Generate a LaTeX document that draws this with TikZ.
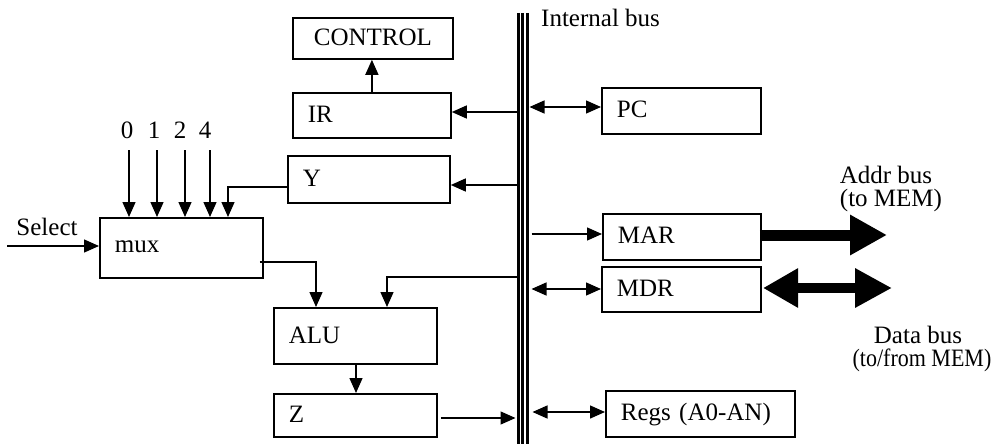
\documentclass[tikz,border=0pt]{standalone}
\usepackage{fontspec}
\setmainfont{Liberation Serif}
\usetikzlibrary{arrows.meta}
\begin{document}
\begin{tikzpicture}[x=1pt,y=-1pt,
  every node/.style={font=\fontsize{25}{28}\selectfont},
  box/.style={draw, line width=1.8pt, anchor=north west, inner xsep=15pt,
    inner ysep=0pt, text height=16pt, text depth=2pt, align=left},
  wire/.style={line width=1.4pt},
  arr/.style={wire, -{Triangle[length=15pt,width=13pt]}},
  darr/.style={wire, {Triangle[length=15pt,width=13pt]}-{Triangle[length=15pt,width=13pt]}},
  fat/.style={line width=11pt, -{Triangle[length=37pt,width=38pt]}},
  fatboth/.style={line width=10.5pt, {Triangle[length=35pt,width=37pt]}-{Triangle[length=37pt,width=37pt]}},
  note/.style={anchor=base, inner sep=0pt},
]
\fill[white] (0,0) rectangle (998,444);
\useasboundingbox (0,0) rectangle (998,444);

% internal bus: three parallel rails
\node[minimum width=13pt, minimum height=431pt, inner sep=0pt, outer sep=0pt] (bus) at (523,228.5) {};
\foreach \dx in {2,6,10.8}
  \draw[line width=2.4pt] ([xshift=\dx pt]bus.north west) -- ([xshift=\dx pt]bus.south west);
\node[anchor=base west, inner sep=0pt] (buslabel) at (541,26.5) {Internal bus};

% registers and units
\node[box, align=center, minimum width=160pt, minimum height=41pt, text width=130pt] (CONTROL) at (292,17) {CONTROL};
\node[box, minimum width=158pt, minimum height=45pt, text width=128pt] (IR) at (292,92) {IR};
\node[box, minimum width=159pt, minimum height=46pt, text width=129pt] (PC) at (601,87) {PC};
\node[box, minimum width=162pt, minimum height=47pt, text width=132pt] (Y) at (287,155) {Y};
\node[box, minimum width=163pt, minimum height=60pt, text width=133pt, text depth=6pt] (mux) at (99,217) {mux};
\node[box, minimum width=163pt, minimum height=56pt, text width=133pt, text depth=0pt] (ALU) at (273,307) {ALU};
\node[box, minimum width=163pt, minimum height=43pt, text width=133pt] (Z) at (273,393) {Z};
\node[box, minimum width=158pt, minimum height=46pt, text width=128pt] (MAR) at (602,213) {MAR};
\node[box, minimum width=159pt, minimum height=45pt, text width=129pt] (MDR) at (601,266) {MDR};
\node[box, minimum width=189pt, minimum height=46pt, text width=159pt] (Regs) at (605,390) {Regs (A0-AN)};

% constant inputs of the multiplexer
\node[note] (in0) at (127,138) {0};
\node[note] (in1) at (154,138) {1};
\node[note] (in2) at (180,138) {2};
\node[note] (in4) at (205,138) {4};
\foreach \n/\x in {in0/129,in1/157,in2/185,in4/210}
  \draw[arr] (\x,150) -- (mux.north -| \x,0);

% select line
\node[note] (sellabel) at (47,235) {Select};
\coordinate (sel) at (7,246);
\draw[arr] (sel) -- (mux.west |- sel);

% datapath connections
\draw[arr] (IR.north) -- (IR.north |- CONTROL.south);
\draw[arr] (bus.west |- 0,112) -- (IR.east |- 0,112);
\draw[darr] (bus.east |- 0,107) -- (PC.west |- 0,107);
\draw[arr] (bus.west |- 0,185) -- (Y.east |- 0,185);
\draw[arr] (Y.west |- 0,187) -| (mux.north -| 228,0);
\draw[arr] ([xshift=-4pt]mux.east |- 0,262) -| (ALU.north -| 316,0);
\draw[arr] (bus.west |- 0,277) -| (ALU.north -| 387,0);
\draw[arr] (ALU.south -| 356,0) -- (Z.north -| 356,0);
\draw[arr] ([xshift=3pt]Z.east |- 0,418) -- ([xshift=-1pt]bus.west |- 0,418);
\draw[arr] ([xshift=2pt]bus.east |- 0,234) -- (MAR.west |- 0,234);
\draw[darr] ([xshift=2pt]bus.east |- 0,289) -- (MDR.west |- 0,289);
\draw[darr] ([xshift=3pt]bus.east |- 0,412) -- (Regs.west |- 0,412);

% memory buses
\coordinate (addrEnd) at (887,235);
\draw[fat] ([xshift=-2pt]MAR.east |- addrEnd) -- (addrEnd);
\coordinate (dataL) at (763,288);
\coordinate (dataR) at (892,288);
\draw[fatboth] (dataL) -- (dataR);
\node[note] (addr1) at (886,183) {Addr bus};
\node[note] (addr2) at (891,206) {(to MEM)};
\node[note] (data1) at (918,343) {Data bus};
\node[note] (data2) at (922,366) {\scalebox{0.88}[1]{(to/from MEM)}};
\end{tikzpicture}
\end{document}
